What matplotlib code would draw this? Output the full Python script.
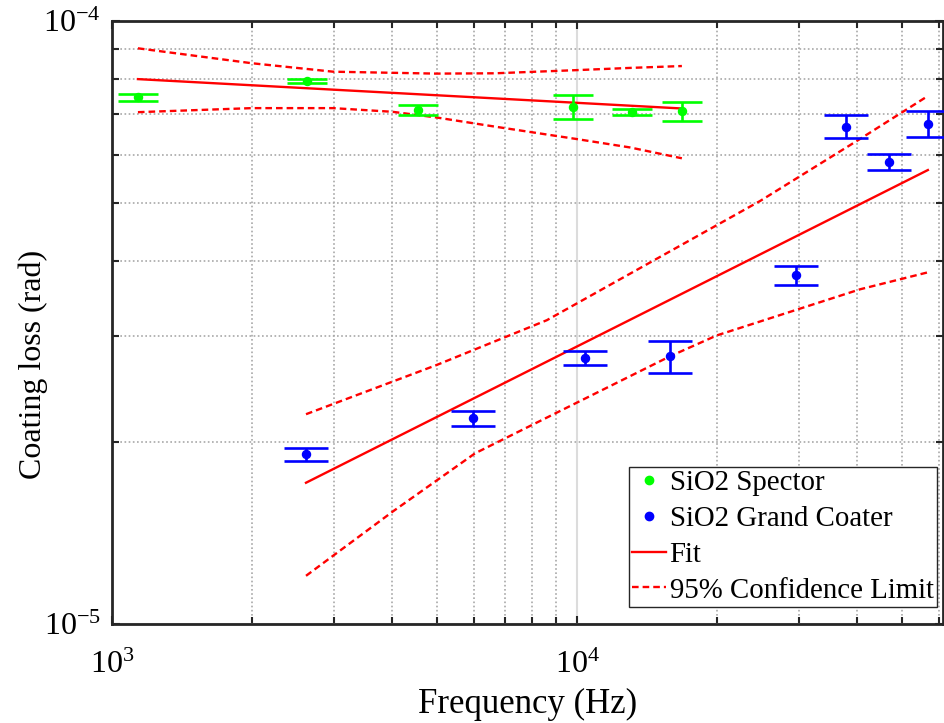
import matplotlib
matplotlib.use("Agg")
import matplotlib.pyplot as plt
from matplotlib.lines import Line2D
from matplotlib.ticker import LogLocator, NullFormatter

# ---------------- data ----------------
spector_f = [1137, 2623, 4550, 9790, 13110, 16800]
spector_loss = [7.47e-5, 7.96e-5, 7.12e-5, 7.21e-5, 7.07e-5, 7.09e-5]
spector_err = [0.10e-5, 0.06e-5, 0.13e-5, 0.32e-5, 0.08e-5, 0.26e-5]

grand_f = [2613, 5984, 10410, 15850, 29580, 37830, 46810, 56780]
grand_loss = [1.913e-5, 2.196e-5, 2.761e-5, 2.782e-5, 3.787e-5, 6.68e-5, 5.84e-5, 6.76e-5]
grand_err = [0.047e-5, 0.063e-5, 0.074e-5, 0.17e-5, 0.136e-5, 0.295e-5, 0.175e-5, 0.33e-5]

spector_fit_f = [1137, 16800]
spector_fit = [8.01e-5, 7.16e-5]
spector_ci_up_f = [1137, 2000, 2988, 4975, 6664, 10000, 13000, 16800]
spector_ci_up = [9.01e-5, 8.51e-5, 8.24e-5, 8.18e-5, 8.19e-5, 8.29e-5, 8.36e-5, 8.42e-5]
spector_ci_lo_f = [1137, 2000, 2988, 4011, 4975, 6664, 10000, 13000, 16800]
spector_ci_lo = [7.06e-5, 7.17e-5, 7.17e-5, 7.07e-5, 6.92e-5, 6.68e-5, 6.37e-5, 6.17e-5, 5.92e-5]

grand_fit_f = [2613, 56780]
grand_fit = [1.715e-5, 5.66e-5]
grand_ci_up_f = [2613, 4992, 8608, 24750, 40270, 56780]
grand_ci_up = [2.228e-5, 2.689e-5, 3.19e-5, 5.03e-5, 6.35e-5, 7.51e-5]
grand_ci_lo_f = [2613, 4027, 6035, 15850, 19970, 40610, 56780]
grand_ci_lo = [1.202e-5, 1.539e-5, 1.919e-5, 2.78e-5, 3.01e-5, 3.59e-5, 3.83e-5]

legend_labels = ["SiO2 Spector", "SiO2 Grand Coater", "Fit", "95% Confidence Limit"]

# ---------------- style ----------------
plt.rcParams['font.family'] = ['Liberation Serif', 'DejaVu Serif']
plt.rcParams['mathtext.fontset'] = 'custom'
plt.rcParams['mathtext.rm'] = 'Liberation Serif'
plt.rcParams['axes.unicode_minus'] = False

GREEN = '#00ff00'
BLUE = '#0000ff'
RED = '#ff0000'
DARK = '#262626'

fig = plt.figure(figsize=(9.45, 7.23), dpi=100)
ax = fig.add_axes([112/945, 99/723, 831/945, 603/723])
ax.set_xscale('log')
ax.set_yscale('log')
ax.set_xlim(1e3, 6.12e4)
ax.set_ylim(1e-5, 1e-4)

# grid
ax.grid(True, which='major', linestyle='-', color='#dcdcdc', linewidth=1.5, zorder=0)
ax.grid(True, which='minor', linestyle=(0, (1, 1.5)), color='#a8a8a8', linewidth=1.2, zorder=0)
ax.set_axisbelow(True)

# fit lines
dash = (2.8, 1.7)
ax.plot(spector_fit_f, spector_fit, color=RED, lw=1.7, zorder=3)
ax.plot(spector_ci_up_f, spector_ci_up, color=RED, lw=1.7, dashes=dash, zorder=3)
ax.plot(spector_ci_lo_f, spector_ci_lo, color=RED, lw=1.7, dashes=dash, zorder=3)
ax.plot(grand_fit_f, grand_fit, color=RED, lw=1.7, zorder=3)
ax.plot(grand_ci_up_f, grand_ci_up, color=RED, lw=1.7, dashes=dash, zorder=3)
ax.plot(grand_ci_lo_f, grand_ci_lo, color=RED, lw=1.7, dashes=dash, zorder=3)

# data with error bars
ax.errorbar(spector_f, spector_loss, yerr=spector_err, fmt='o', color=GREEN,
            ms=5.8, elinewidth=1.9, capsize=14.3, capthick=1.9, zorder=4)
ax.errorbar(grand_f, grand_loss, yerr=grand_err, fmt='o', color=BLUE,
            ms=5.8, elinewidth=1.9, capsize=15.7, capthick=1.9, zorder=4)

# ticks
ax.xaxis.set_minor_locator(LogLocator(base=10, subs=range(2, 10), numticks=20))
ax.yaxis.set_minor_locator(LogLocator(base=10, subs=range(2, 10), numticks=20))
ax.xaxis.set_minor_formatter(NullFormatter())
ax.yaxis.set_minor_formatter(NullFormatter())
ax.tick_params(which='both', direction='in', top=True, right=True, color=DARK, width=1.5)
ax.tick_params(which='major', length=6, labelsize=23)
ax.tick_params(axis='x', which='major', pad=19)
ax.tick_params(axis='y', which='major', pad=8)
ax.tick_params(which='minor', length=5)
for s in ax.spines.values():
    s.set_linewidth(2.0)
    s.set_color(DARK)

ax.set_xlabel('Frequency (Hz)', fontsize=25, labelpad=6)
ax.set_ylabel('Coating loss (rad)', fontsize=23)
ax.yaxis.set_label_coords(-0.077, 0.431)

handles = [
    Line2D([], [], linestyle='none', marker='o', color=GREEN, ms=6),
    Line2D([], [], linestyle='none', marker='o', color=BLUE, ms=6),
    Line2D([], [], color=RED, lw=1.7),
    Line2D([], [], color=RED, lw=1.7, dashes=dash),
]
leg = ax.legend(handles, legend_labels, loc='lower right',
                bbox_to_anchor=(1 - 6/831, 17/603), borderaxespad=0,
                fontsize=20.8, fancybox=False, framealpha=1, edgecolor=DARK,
                handlelength=1.18, handletextpad=0.12, labelspacing=0.33,
                borderpad=0.12)
leg.get_frame().set_linewidth(1.0)

fig.savefig('out.png', dpi=100)
